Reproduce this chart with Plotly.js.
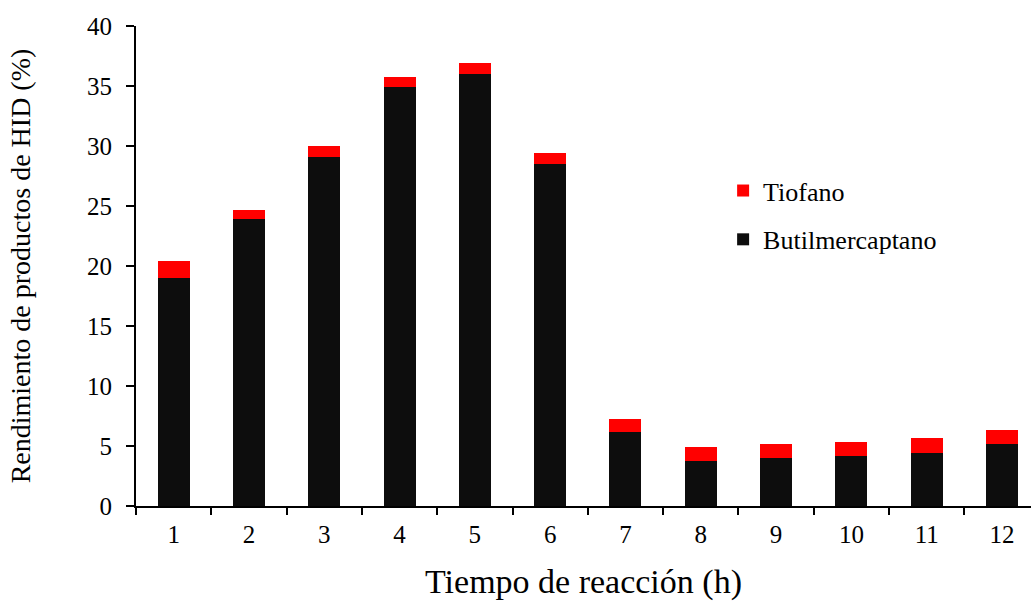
<!DOCTYPE html>
<html>
<head>
<meta charset="utf-8">
<script src="https://cdn.plot.ly/plotly-3.0.1.min.js"></script>
<style>html,body{margin:0;padding:0;background:#fff;}#chart{width:1031px;height:604px;}</style>
</head>
<body>
<div id="chart"></div>
<script>
const categories = ["1","2","3","4","5","6","7","8","9","10","11","12"];
const butilmercaptano = [19.0, 23.9, 29.1, 34.9, 36.0, 28.5, 6.15, 3.75, 4.0, 4.2, 4.45, 5.15];
const tiofano = [1.4, 0.8, 0.9, 0.85, 0.95, 0.95, 1.1, 1.15, 1.15, 1.15, 1.2, 1.2];
const yTicks = [0,5,10,15,20,25,30,35,40];

const font = "Liberation Serif";
const traces = [
  {type:"bar", name:"Butilmercaptano", x:categories, y:butilmercaptano,
   marker:{color:"#0d0d0d", line:{width:0}}, legendgroup:"b", legendrank:2, width:0.425},
  {type:"bar", name:"Tiofano", x:categories, y:tiofano,
   marker:{color:"#ff0000", line:{width:0}}, legendgroup:"t", legendrank:1, width:0.425}
];
const layout = {
  width:1031, height:604,
  margin:{l:136, r:0, t:26, b:98},
  barmode:"stack",
  paper_bgcolor:"#fff", plot_bgcolor:"#fff",
  font:{family:font, color:"#000", size:25},
  showlegend:true,
  legend:{x:0.656, y:0.706, xanchor:"left", yanchor:"top", traceorder:"grouped",
          tracegroupgap:12, font:{family:font, size:26, color:"#000"}, bgcolor:"rgba(0,0,0,0)"},
  xaxis:{type:"category", range:[-0.5, 11.385], tickson:"boundaries",
         showline:true, linecolor:"#000", linewidth:2, ticks:"outside", ticklen:7, tickwidth:2, tickcolor:"#000",
         showgrid:false, zeroline:false, tickfont:{family:font, size:25}, ticklabelstandoff:5,
         title:{text:"Tiempo de reacción (h)", font:{family:font, size:34}, standoff:22}},
  yaxis:{range:[0,40], tickvals:yTicks, showline:true, linecolor:"#000", linewidth:2,
         ticks:"outside", ticklen:8, tickwidth:2, tickcolor:"#000",
         showgrid:false, zeroline:false, tickfont:{family:font, size:25}, ticklabelstandoff:9,
         title:{text:"Rendimiento de productos de HID (%)", font:{family:font, size:28}, standoff:48}}
};
Plotly.newPlot("chart", traces, layout, {displayModeBar:false, staticPlot:true});
</script>
</body>
</html>
